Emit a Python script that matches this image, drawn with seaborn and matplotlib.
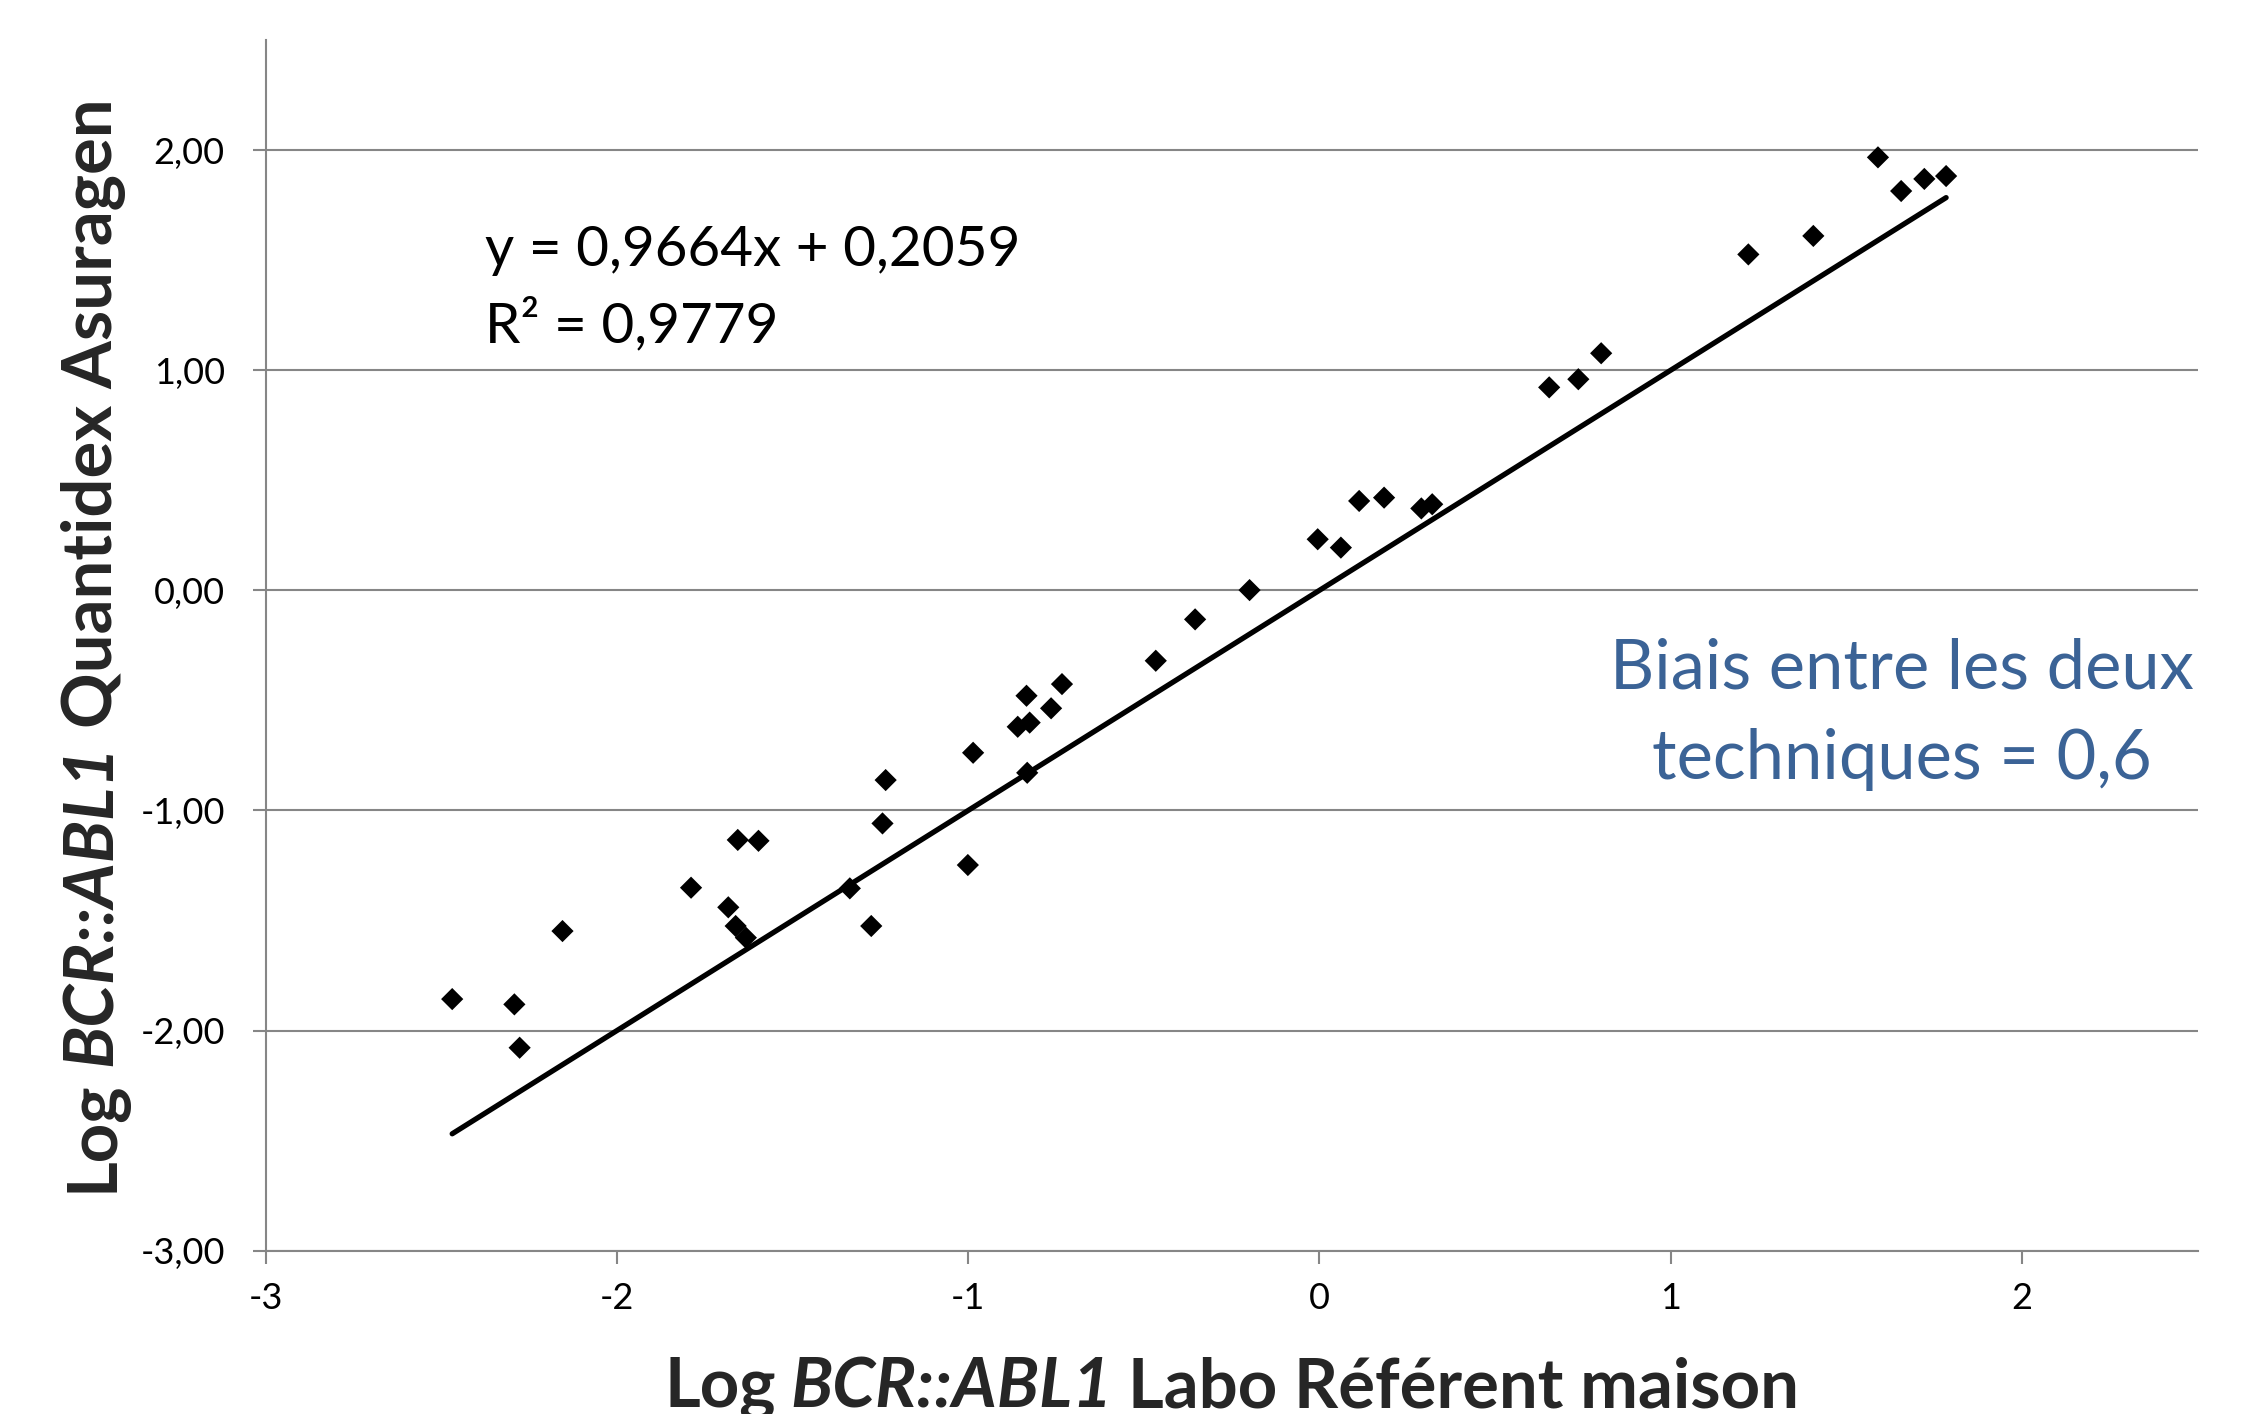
import matplotlib
matplotlib.use("Agg")
import matplotlib.pyplot as plt
import matplotlib.ticker as mticker
import pandas as pd
import seaborn as sns

# Log BCR::ABL1 : labo referent maison (x) vs Quantidex Asuragen (y)
labo_ref = [-2.469, -2.292, -2.277, -2.155, -1.789, -1.656, -1.597, -1.683, -1.662, -1.633,
            -1.337, -1.244, -1.276, -1.001, -1.235, -0.986, -0.834, -0.733, -0.764, -0.859,
            -0.825, -0.832, -0.466, -0.354, -0.199, -0.005, 0.061, 0.113, 0.184, 0.290,
            0.321, 0.654, 0.737, 0.802, 1.221, 1.406, 1.590, 1.656, 1.722, 1.784]
asuragen = [-1.857, -1.881, -2.078, -1.548, -1.351, -1.134, -1.138, -1.440, -1.525, -1.578,
            -1.354, -1.059, -1.525, -1.248, -0.862, -0.738, -0.479, -0.426, -0.536, -0.620,
            -0.601, -0.829, -0.320, -0.132, 0.001, 0.232, 0.194, 0.406, 0.421, 0.372,
            0.391, 0.922, 0.959, 1.077, 1.526, 1.610, 1.967, 1.814, 1.869, 1.882]

x_ticks = [-3, -2, -1, 0, 1, 2]
y_ticks = [-3, -2, -1, 0, 1, 2]

equation = "y = 0,9664x + 0,2059"
r_squared = "R² = 0,9779"
bias_lines = ["Biais entre les deux", "techniques = 0,6"]

xlabel_parts = [("Log", "normal"), ("BCR::ABL1", "italic"), ("Labo Référent maison", "normal")]
ylabel_parts = [("Log", "normal"), ("BCR::ABL1", "italic"), ("Quantidex Asuragen", "normal")]

GRID = "#868686"
BLUE = "#3B6396"
LABEL_FS = 24.8

df = pd.DataFrame({"labo": labo_ref, "asuragen": asuragen})

sns.set_theme(style="white")
plt.rcParams["font.family"] = ["Lato", "DejaVu Sans"]

fig = plt.figure(figsize=(11.21, 7.07), dpi=200)
ax = fig.add_axes([0.1185, 0.1155, 0.8617, 0.8562])

# identity line over the data range
lims = [df["labo"].min(), df["labo"].max()]
ax.plot(lims, lims, color="black", lw=1.9, solid_capstyle="round", zorder=2)

sns.scatterplot(data=df, x="labo", y="asuragen", marker="D", s=32, color="black",
                edgecolor="none", linewidth=0, ax=ax, zorder=3)

ax.set_xlim(-3, 2.5)
ax.set_ylim(-3, 2.5)
ax.set_xticks(x_ticks)
ax.set_yticks(y_ticks)
ax.xaxis.set_major_formatter(mticker.FuncFormatter(lambda v, p: f"{v:.0f}"))
ax.yaxis.set_major_formatter(mticker.FuncFormatter(lambda v, p: f"{v:.2f}".replace(".", ",")))
ax.set_xlabel("")
ax.set_ylabel("")

ax.yaxis.grid(True, color=GRID, lw=0.75)
ax.xaxis.grid(False)
for side in ["top", "right"]:
    ax.spines[side].set_visible(False)
for side in ["left", "bottom"]:
    ax.spines[side].set_color(GRID)
    ax.spines[side].set_linewidth(0.75)

ax.tick_params(axis="both", bottom=True, left=True, direction="out", length=4.7,
               width=0.75, color=GRID, labelsize=13, labelcolor="black")
ax.tick_params(axis="x", pad=6.6)
ax.tick_params(axis="y", pad=10)

# annotations
ax.text(-2.376, 1.473, equation, fontsize=20.4, ha="left", va="baseline", color="black")
ax.text(-2.376, 1.125, r_squared, fontsize=20.4, ha="left", va="baseline", color="black")
ax.text(1.659, -0.444, bias_lines[0], fontsize=24.7, ha="center", va="baseline", color=BLUE)
ax.text(1.659, -0.859, bias_lines[1], fontsize=24.7, ha="center", va="baseline", color=BLUE)

gap = 0.22 * LABEL_FS

# x label, built from pieces (bold / bold italic)
x_base = 7 / 1414
xl = [fig.text(0.3, x_base, xlabel_parts[0][0], fontsize=LABEL_FS, fontweight="bold",
               fontstyle=xlabel_parts[0][1], ha="left", va="baseline")]
for txt, style in xlabel_parts[1:]:
    xl.append(ax.annotate(
        txt, xy=(1, x_base), xycoords=(xl[-1], "figure fraction"), xytext=(gap, 0),
        textcoords="offset points", fontsize=LABEL_FS, fontweight="bold", fontstyle=style,
        ha="left", va="baseline", annotation_clip=False))

# y label, rotated
y_base = 112 / 2242
yl = [fig.text(y_base, 0.2, ylabel_parts[0][0], fontsize=LABEL_FS, fontweight="bold",
               fontstyle=ylabel_parts[0][1], rotation=90, rotation_mode="anchor",
               ha="left", va="baseline")]
for txt, style in ylabel_parts[1:]:
    yl.append(ax.annotate(
        txt, xy=(y_base, 1), xycoords=("figure fraction", yl[-1]), xytext=(0, gap),
        textcoords="offset points", fontsize=LABEL_FS, fontweight="bold", fontstyle=style,
        rotation=90, rotation_mode="anchor", ha="left", va="baseline", annotation_clip=False))

# centre both labels on the axes
fig.canvas.draw()
r = fig.canvas.get_renderer()
W, H = fig.bbox.width, fig.bbox.height
ab = ax.get_window_extent(r)
b0, b1 = xl[0].get_window_extent(r), xl[-1].get_window_extent(r)
total = b1.x1 - b0.x0
xl[0].set_x(((ab.x0 + ab.x1) / 2 - total / 2) / W)
b0, b1 = yl[0].get_window_extent(r), yl[-1].get_window_extent(r)
total = b1.y1 - b0.y0
yl[0].set_y(((ab.y0 + ab.y1) / 2 - total / 2) / H)

fig.savefig("out.png", dpi=200, facecolor="white")
